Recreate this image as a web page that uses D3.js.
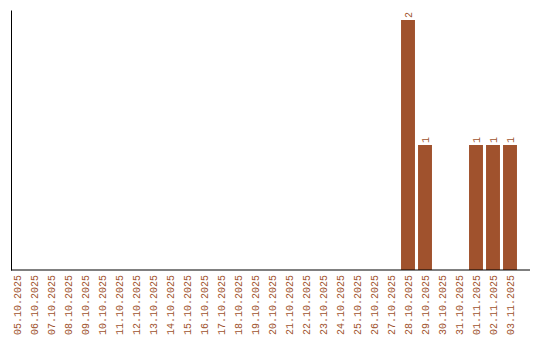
<!DOCTYPE html>
<html>
<head>
<meta charset="utf-8">
<script src="https://d3js.org/d3.v7.min.js"></script>
<style>
  body { margin: 0; background: #fff; }
  text { font-family: "Liberation Mono", monospace; font-size: 10px; }
</style>
</head>
<body>
<div id="chart"></div>
<script>
// dates shown on the x axis
var dates = ["05.10.2025","06.10.2025","07.10.2025","08.10.2025","09.10.2025","10.10.2025",
  "11.10.2025","12.10.2025","13.10.2025","14.10.2025","15.10.2025","16.10.2025","17.10.2025",
  "18.10.2025","19.10.2025","20.10.2025","21.10.2025","22.10.2025","23.10.2025","24.10.2025",
  "25.10.2025","26.10.2025","27.10.2025","28.10.2025","29.10.2025","30.10.2025","31.10.2025",
  "01.11.2025","02.11.2025","03.11.2025"]
var counts = [0,0,0,0,0,0,0,0,0,0,0,0,0,0,0,0,0,0,0,0,0,0,0,2,1,0,0,1,1,1]

var width = 540, height = 340
var color = "#a0522d"

var svg = d3.select("#chart").append("svg")
    .attr("width", width)
    .attr("height", height)

var x = d3.scaleBand()
    .domain(dates)
    .range([8.5, 518.5])
    .paddingInner(0.18)
    .paddingOuter(0.09)

var y = d3.scaleLinear()
    .domain([0, 2.08])
    .range([270, 10])

var data = dates.map(function(d, i) { return {date: d, n: counts[i]} })
var bars = data.filter(function(d) { return d.n > 0 })

// bars
svg.selectAll("rect.bar")
  .data(bars)
  .enter().append("rect")
    .attr("class", "bar")
    .attr("x", function(d) { return x(d.date) })
    .attr("y", function(d) { return y(d.n) })
    .attr("width", x.bandwidth())
    .attr("height", function(d) { return y(0) - y(d.n) })
    .style("fill", color)

// value labels
svg.selectAll("text.val")
  .data(bars)
  .enter().append("text")
    .attr("class", "val")
    .attr("transform", function(d) {
      return "translate(" + (x(d.date) + x.bandwidth() / 2) + "," + (y(d.n) - 2) + ") rotate(-90)"
    })
    .attr("dy", "0.35em")
    .style("fill", color)
    .text(function(d) { return d.n })

// x axis
var xa = svg.append("g")
    .attr("transform", "translate(0,270)")
    .call(d3.axisBottom(x).tickSize(0))
xa.select(".domain").remove()
xa.selectAll("text")
    .attr("transform", "rotate(-90)")
    .attr("x", -5)
    .attr("y", 0)
    .attr("dy", "0.35em")
    .style("text-anchor", "end")
    .style("fill", color)
    .style("font-family", "Liberation Mono, monospace")
    .style("font-size", "10px")

svg.append("line")
    .attr("x1", 11).attr("x2", 530)
    .attr("y1", y(0)).attr("y2", y(0))
    .style("stroke", "#000")

// y axis (line only)
var ya = svg.append("g")
    .attr("transform", "translate(11,0)")
    .call(d3.axisLeft(y).ticks(0).tickSizeOuter(0))
ya.select(".domain").style("stroke", "#000")
</script>
</body>
</html>
